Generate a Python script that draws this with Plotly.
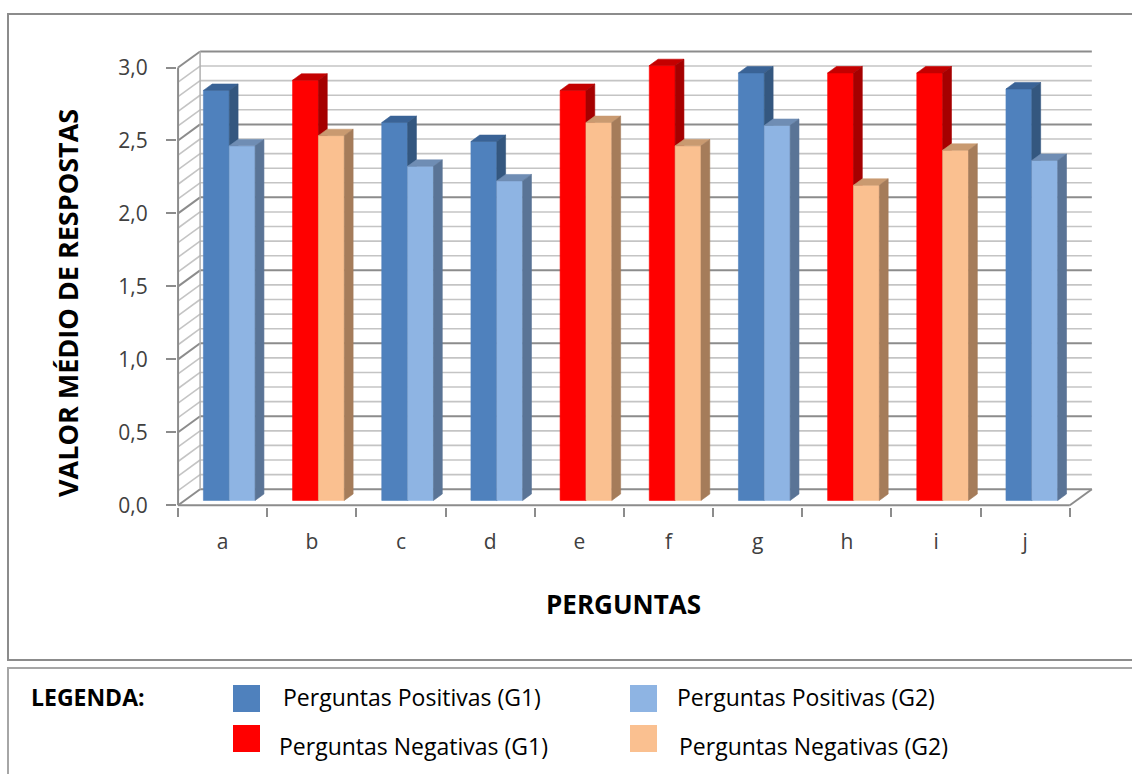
import plotly.graph_objects as go

# ---- data -------------------------------------------------------------
categorias = ["a", "b", "c", "d", "e", "f", "g", "h", "i", "j"]
tipo_pergunta = ["P", "N", "P", "P", "N", "N", "P", "N", "N", "P"]  # P = positiva, N = negativa
media_g1 = [2.81, 2.88, 2.59, 2.46, 2.81, 2.98, 2.93, 2.93, 2.93, 2.82]
media_g2 = [2.43, 2.50, 2.29, 2.19, 2.59, 2.43, 2.57, 2.16, 2.40, 2.33]
y_ticks = [0.0, 0.5, 1.0, 1.5, 2.0, 2.5, 3.0]

legenda_itens = [
    ("Perguntas Positivas (G1)", "P", 1),
    ("Perguntas Positivas (G2)", "P", 2),
    ("Perguntas Negativas (G1)", "N", 1),
    ("Perguntas Negativas (G2)", "N", 2),
]

# face colours for each (question type, group)
cores = {
    ("P", 1): {"front": "#4F81BD", "top": "#3A6396", "side": "#34577F"},
    ("P", 2): {"front": "#8EB4E3", "top": "#6F8DB4", "side": "#5A7496"},
    ("N", 1): {"front": "#FF0000", "top": "#C40000", "side": "#A50000"},
    ("N", 2): {"front": "#FAC090", "top": "#C99A70", "side": "#A57C5A"},
}

# ---- pseudo-3D projection ----------------------------------------------
DX, DY = 0.247, 0.11        # full depth offset (x in category units, y in value units)
T0, T1 = 0.30, 0.70         # depth slice occupied by the bars
BW = 0.29                   # bar width in category units
N = len(categorias)
YMAX = 3.0


def proj(x, v, t):
    return x + t * DX, v + t * DY


def faces(x0, x1, v):
    pts = {
        "front": [proj(x0, 0, T0), proj(x1, 0, T0), proj(x1, v, T0), proj(x0, v, T0)],
        "top": [proj(x0, v, T0), proj(x1, v, T0), proj(x1, v, T1), proj(x0, v, T1)],
        "side": [proj(x1, 0, T0), proj(x1, 0, T1), proj(x1, v, T1), proj(x1, v, T0)],
    }
    return pts


fig = go.Figure()

for grupo, valores in ((1, media_g1), (2, media_g2)):
    for face in ("front", "top", "side"):
        for i, v in enumerate(valores):
            x0 = i + 0.5 - BW if grupo == 1 else i + 0.5
            poly = faces(x0, x0 + BW, v)[face]
            cor = cores[(tipo_pergunta[i], grupo)][face]
            xs = [p[0] for p in poly] + [poly[0][0]]
            ys = [p[1] for p in poly] + [poly[0][1]]
            fig.add_trace(go.Scatter(
                x=xs, y=ys, mode="lines", fill="toself",
                fillcolor=cor, line=dict(color=cor, width=0.6),
                hoverinfo="skip", showlegend=False,
            ))

# ---- walls and floor ---------------------------------------------------
shapes = []
for k in range(int(YMAX * 10) + 1):
    v = k / 10
    major = (k % 5 == 0)
    cor = "#8C8C8C" if major else "#C4C4C4"
    w = 2 if major else 1.6
    # back wall line
    shapes.append(dict(type="line", xref="x", yref="y", layer="below",
                       x0=DX, y0=v + DY, x1=N + DX, y1=v + DY,
                       line=dict(color=cor, width=w)))
    # left wall line
    shapes.append(dict(type="line", xref="x", yref="y", layer="below",
                       x0=0, y0=v, x1=DX, y1=v + DY,
                       line=dict(color=cor, width=w)))

edge = dict(color="#8C8C8C", width=2)
shapes += [
    dict(type="line", xref="x", yref="y", layer="below", x0=0, y0=0, x1=0, y1=YMAX, line=edge),
    dict(type="line", xref="x", yref="y", layer="below", x0=DX, y0=DY, x1=DX, y1=YMAX + DY,
         line=dict(color="#B0B0B0", width=1.5)),
    dict(type="line", xref="x", yref="y", layer="below", x0=0, y0=0, x1=N, y1=0, line=edge),
    dict(type="line", xref="x", yref="y", layer="below", x0=N, y0=0, x1=N + DX, y1=DY, line=edge),
]

# ---- plot area in pixels -------------------------------------------------
W, H = 1132, 774
PL, PT, PW, PH = 177, 50, 916, 457


def fx(px):
    return (px - PL) / PW


def fy(py):
    return (PT + PH - py) / PH


# chart frame and legend frame
shapes.append(dict(type="rect", xref="paper", yref="paper", layer="below",
                   x0=fx(8), y0=fy(660), x1=fx(1145), y1=fy(14),
                   line=dict(color="#8C8C8C", width=2)))
shapes.append(dict(type="rect", xref="paper", yref="paper", layer="below",
                   x0=fx(8), y0=fy(790), x1=fx(1145), y1=fy(668),
                   line=dict(color="#A6A6A6", width=2)))

# legend swatches
sw_pos = [(233, 685), (630, 685), (233, 725), (630, 725)]
txt_pos = [(281, 697), (675, 697), (277, 746), (677, 746)]
annotations = []
for (rotulo, tp, g), (sx, sy), (tx, ty) in zip(legenda_itens, sw_pos, txt_pos):
    shapes.append(dict(type="rect", xref="paper", yref="paper",
                       x0=fx(sx), y0=fy(sy + 27), x1=fx(sx + 27), y1=fy(sy),
                       fillcolor=cores[(tp, g)]["front"], line=dict(width=0)))
    annotations.append(dict(xref="paper", yref="paper", x=fx(tx), y=fy(ty),
                            xanchor="left", yanchor="middle", showarrow=False,
                            text=rotulo,
                            font=dict(family="Open Sans", size=23, color="#000000")))

annotations.append(dict(xref="paper", yref="paper", x=fx(29), y=fy(697),
                        xanchor="left", yanchor="middle", showarrow=False,
                        text="<b>LEGENDA:</b>",
                        font=dict(family="Open Sans", size=23, color="#000000")))

# axis titles
annotations.append(dict(xref="paper", yref="paper", x=fx(67), y=fy(303),
                        xanchor="center", yanchor="middle", showarrow=False,
                        textangle=-90, text="<b>VALOR MÉDIO DE RESPOSTAS</b>",
                        font=dict(family="Open Sans", size=27, color="#000000")))
annotations.append(dict(xref="paper", yref="paper", x=fx(623), y=fy(604),
                        xanchor="center", yanchor="middle", showarrow=False,
                        text="<b>PERGUNTAS</b>",
                        font=dict(family="Open Sans", size=26, color="#000000")))

fig.update_layout(
    width=W, height=H,
    margin=dict(l=PL, t=PT, r=W - PL - PW, b=H - PT - PH, pad=0),
    paper_bgcolor="white", plot_bgcolor="white",
    separators=", ",
    showlegend=False,
    shapes=shapes,
    annotations=annotations,
    xaxis=dict(
        range=[-0.012, N + DX + 0.013],
        tickvals=[i + 0.5 for i in range(N)], ticktext=categorias,
        ticks="", showgrid=False, zeroline=False, showline=False,
        tickfont=dict(family="Open Sans", size=21, color="#404040"),
        ticklabelstandoff=20,
        minor=dict(tickvals=list(range(N + 1)), ticks="outside", ticklen=9,
                   tickwidth=2, tickcolor="#8C8C8C", showgrid=False),
        fixedrange=True,
    ),
    yaxis=dict(
        range=[-0.012, YMAX + 0.12],
        tickvals=y_ticks, tickformat=".1f",
        ticks="outside", ticklen=10, tickwidth=2, tickcolor="#8C8C8C",
        showgrid=False, zeroline=False, showline=False,
        tickfont=dict(family="Open Sans", size=21, color="#404040"),
        ticklabelstandoff=14,
        fixedrange=True,
    ),
)

fig.write_html("out.html")
